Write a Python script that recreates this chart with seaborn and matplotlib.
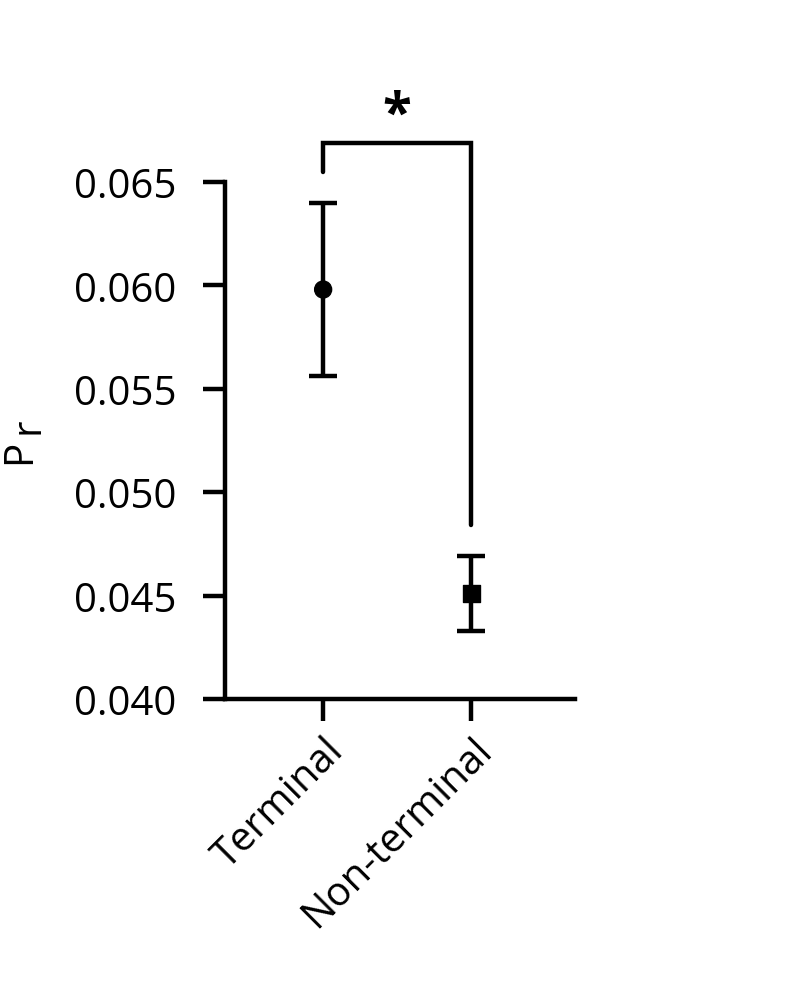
import numpy as np
import pandas as pd
import matplotlib
matplotlib.use("Agg")
import matplotlib.pyplot as plt
import seaborn as sns

# values
groups = ["Terminal", "Non-terminal"]
means = [0.0598, 0.0451]
err_upper = [0.0640, 0.0469]
err_lower = [0.0556, 0.0433]
markers = ["o", "s"]
yticks = [0.040, 0.045, 0.050, 0.055, 0.060, 0.065]

df = pd.DataFrame({"group": groups, "Pr": means})

sns.set_theme(style="ticks")
plt.rcParams["font.family"] = ["Open Sans", "DejaVu Sans"]
plt.rcParams["text.color"] = "black"
plt.rcParams["xtick.color"] = "black"
plt.rcParams["ytick.color"] = "black"
plt.rcParams["axes.labelcolor"] = "black"

fig = plt.figure(figsize=(7.91, 9.87), dpi=100)
ax = fig.add_axes([0.2845, 0.2908, 0.4425, 0.5238])

"""error bars first, then points on top"""
for i, g in enumerate(groups):
    ax.errorbar(i, means[i],
                yerr=[[means[i] - err_lower[i]], [err_upper[i] - means[i]]],
                fmt="none", ecolor="black", elinewidth=3.2, capsize=10, capthick=3.2)

sns.scatterplot(data=df, x="group", y="Pr", style="group", markers=markers,
                color="black", s=150, edgecolor="black", legend=False, ax=ax, zorder=3)

ax.set_xlim(-0.662, 1.70)
ax.set_ylim(0.040, 0.065)
ax.set_yticks(yticks)
ax.set_yticklabels([f"{t:.3f}" for t in yticks])
ax.set_xticks(range(len(groups)))
ax.set_xticklabels(groups, rotation=45, ha="right", rotation_mode="anchor")
ax.set_xlabel("")
ax.set_ylabel("")

ax.tick_params(axis="both", length=16, width=3.2, labelsize=29, color="black",
               labelcolor="black")
ax.tick_params(axis="y", pad=19)
ax.tick_params(axis="x", pad=6)
for s in ["left", "bottom"]:
    ax.spines[s].set_linewidth(3.2)
    ax.spines[s].set_color("black")
sns.despine(ax=ax)

"""y label: P with a full size, lowered r"""
fig.text(20 / 791, 1 - 452 / 987, "P", rotation=90, ha="center", va="center", fontsize=29)
fig.text(28 / 791, 1 - 426 / 987, "r", rotation=90, ha="center", va="center", fontsize=29)

"""significance bracket"""
off = 0.0015
top = 0.0669
ax.plot([0, 0, 1, 1], [err_upper[0] + off, top, top, err_upper[1] + off],
        color="black", lw=3.2, clip_on=False, solid_joinstyle="miter")
ax.text(0.5, top + 0.0000, "*", ha="center", va="bottom", fontsize=38,
        fontweight="bold")

fig.savefig("out.png", dpi=100)
